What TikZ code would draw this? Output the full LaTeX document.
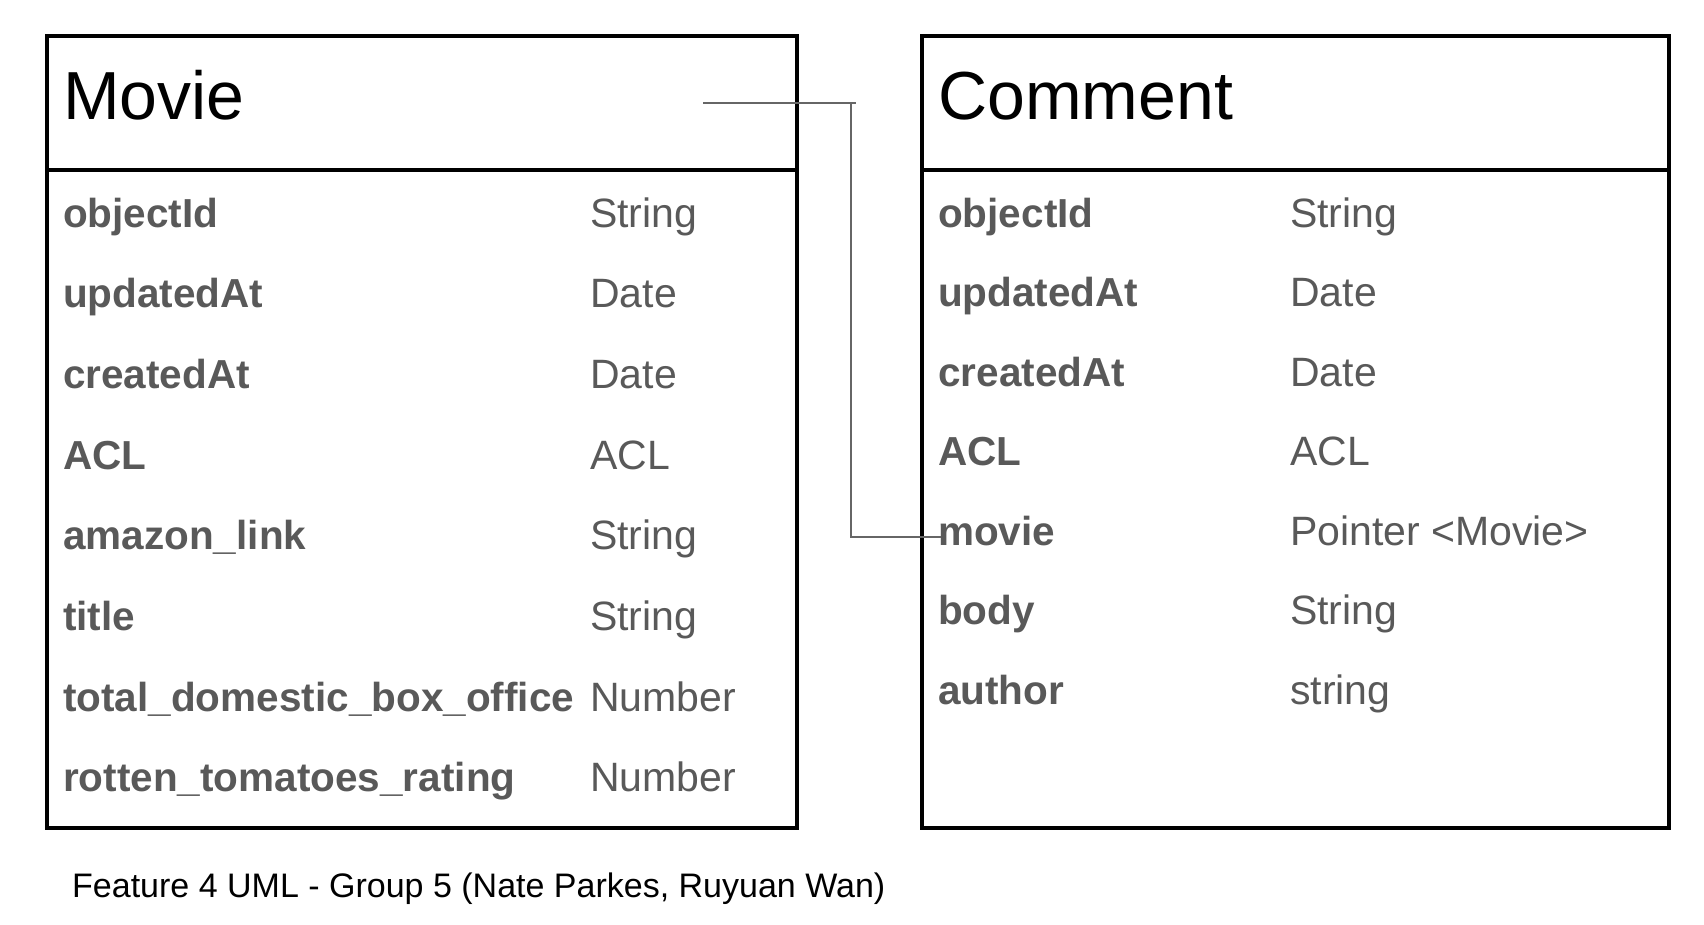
\documentclass[tikz,border=0pt]{standalone}
\usepackage{fontspec}
\setmainfont{Liberation Sans}
\usetikzlibrary{calc}
\definecolor{fieldgray}{HTML}{595959}
\definecolor{linkgray}{HTML}{666666}
\begin{document}
\begin{tikzpicture}[x=1pt,y=-1pt,
  classbox/.style={draw=black, line width=4pt, rectangle, inner sep=0pt, anchor=north west},
  divider/.style={draw=black, line width=4pt},
  classtitle/.style={anchor=base west, inner sep=0pt, font=\fontsize{68}{80}\selectfont},
  fname/.style={anchor=base west, inner sep=0pt, text=fieldgray, font=\fontsize{40.5}{48}\selectfont\bfseries},
  ftype/.style={anchor=base west, inner sep=0pt, text=fieldgray, font=\fontsize{41}{48}\selectfont},
  link/.style={draw=linkgray, line width=1.8pt},
  caption/.style={anchor=base west, inner sep=0pt, font=\fontsize{34}{40}\selectfont},
]
\useasboundingbox (0,0) rectangle (1704,924);

% class frames
\node[classbox, minimum width=750pt, minimum height=792pt] (movie) at (45,34) {};
\node[classbox, minimum width=747pt, minimum height=792pt] (comment) at (920,34) {};
\draw[divider] (movie.west |- 0,170) -- (movie.east |- 0,170);
\draw[divider] (comment.west |- 0,170) -- (comment.east |- 0,170);

% class names
\node[classtitle] (movietitle) at (63,119.5) {Movie};
\node[classtitle] (commenttitle) at (938,119.5) {Comment};

% Movie attributes
\foreach \n/\t [count=\i] in {objectId/String, updatedAt/Date, createdAt/Date, ACL/ACL,
    amazon\_link/String, title/String, total\_domestic\_box\_office/Number,
    rotten\_tomatoes\_rating/Number}{
  \node[fname] (m-\i) at (63,{227+80.7*(\i-1)}) {\n};
  \node[ftype] (mt-\i) at (590,{227+80.7*(\i-1)}) {\t};
}

% Comment attributes
\foreach \n/\t [count=\i] in {objectId/String, updatedAt/Date, createdAt/Date, ACL/ACL,
    movie/Pointer <Movie>, body/String, author/string}{
  \node[fname] (c-\i) at (938,{227+79.5*(\i-1)}) {\n};
  \node[ftype] (ct-\i) at (1290,{227+79.5*(\i-1)}) {\t};
}

% pointer from Comment.movie to Movie
\coordinate (linkstart) at (703,103);
\coordinate (linkend) at ($(c-5.base west)+(3,-8)$);
\draw[link] (linkstart) -- ++(153,0);
\draw[link] (851,103) |- (linkend);

% caption
\node[caption] (cap) at (72,897) {Feature 4 UML - Group 5 (Nate Parkes, Ruyuan Wan)};
\end{tikzpicture}
\end{document}
